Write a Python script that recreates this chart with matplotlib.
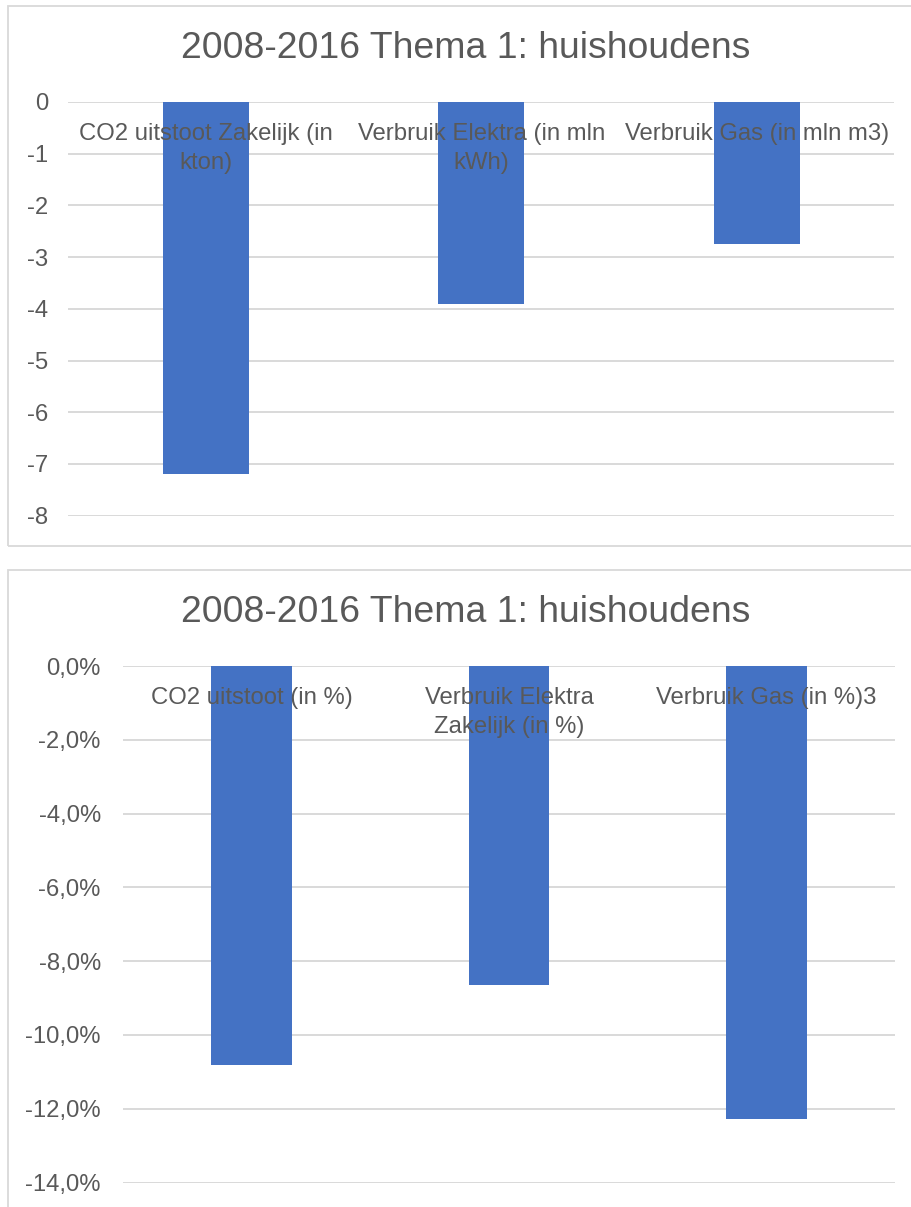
#!/usr/bin/env python3
"""Two Excel-style column charts: changes 2008-2016, theme 1 (households)."""

import matplotlib
matplotlib.use("Agg")
import matplotlib.pyplot as plt
from matplotlib.patches import Rectangle
from matplotlib.ticker import FuncFormatter

TITLE = "2008-2016 Thema 1: huishoudens"

# top chart: absolute change
abs_labels = ["CO2 uitstoot Zakelijk (in\nkton)", "Verbruik Elektra (in mln\nkWh)",
              "Verbruik Gas (in mln m3)"]
abs_values = [-7.19, -3.91, -2.75]
abs_ticks = [0, -1, -2, -3, -4, -5, -6, -7, -8]

# bottom chart: relative change (%)
pct_labels = ["CO2 uitstoot (in %)", "Verbruik Elektra\nZakelijk (in %)",
              "Verbruik Gas (in %)3"]
pct_values = [-10.82, -8.65, -12.28]
pct_ticks = [0, -2, -4, -6, -8, -10, -12, -14]

BAR = "#4472C4"
TEXT = "#595959"
GRID = "#D9D9D9"

W, H = 912, 1207
DPI = 100

plt.rcParams["font.family"] = ["Liberation Sans", "DejaVu Sans"]
plt.rcParams["axes.unicode_minus"] = False

fig = plt.figure(figsize=(W / DPI, H / DPI), dpi=DPI)


def px_axes(x0, y0, x1, y1):
    # pixel box (top-left origin) -> figure fraction
    return fig.add_axes([x0 / W, 1 - y1 / H, (x1 - x0) / W, (y1 - y0) / H])


def border(x0, y0, x1, y1):
    fig.patches.append(Rectangle((x0 / W, 1 - y1 / H), (x1 - x0) / W, (y1 - y0) / H,
                                 transform=fig.transFigure, fill=False,
                                 edgecolor=GRID, linewidth=1.3))


def column_chart(ax, labels, values, ticks, fmt, ypad, title_y):
    x = range(len(values))
    ax.bar(x, values, width=0.313, color=BAR, zorder=2)
    ax.set_xlim(-0.5, len(values) - 0.5)
    ax.set_ylim(min(ticks), max(ticks))
    ax.set_yticks(ticks)
    ax.yaxis.set_major_formatter(FuncFormatter(fmt))
    ax.spines["bottom"].set_position(("data", 0))
    for s in ax.spines.values():
        s.set_visible(False)
    ax.tick_params(axis="x", length=0, pad=15, labelsize=17.2, labelcolor=TEXT)
    ax.tick_params(axis="y", length=0, pad=ypad, labelsize=17.2, labelcolor=TEXT)
    ax.set_xticks(list(x))
    ax.set_xticklabels(labels)
    for t in ax.get_xticklabels():
        t.set_linespacing(1.45)
    ax.grid(axis="y", color=GRID, linewidth=1.4, zorder=0)
    ax.set_axisbelow(True)
    ax.xaxis.set_zorder(3)
    fig.text(466 / W, 1 - title_y / H, TITLE, ha="center", va="center",
             fontsize=26.9, color=TEXT)


border(8, 6, 924, 545.5)
border(8, 570, 924, 1220)

ax1 = px_axes(68, 102, 894.5, 515.6)
column_chart(ax1, abs_labels, abs_values, abs_ticks,
             lambda v, p: f"{v:.0f}", 14, 48)

ax2 = px_axes(123, 666, 895, 1182.6)
column_chart(ax2, pct_labels, pct_values, pct_ticks,
             lambda v, p: f"{v:.1f}%".replace(".", ","), 16, 612)

fig.savefig("out.png", dpi=DPI)
